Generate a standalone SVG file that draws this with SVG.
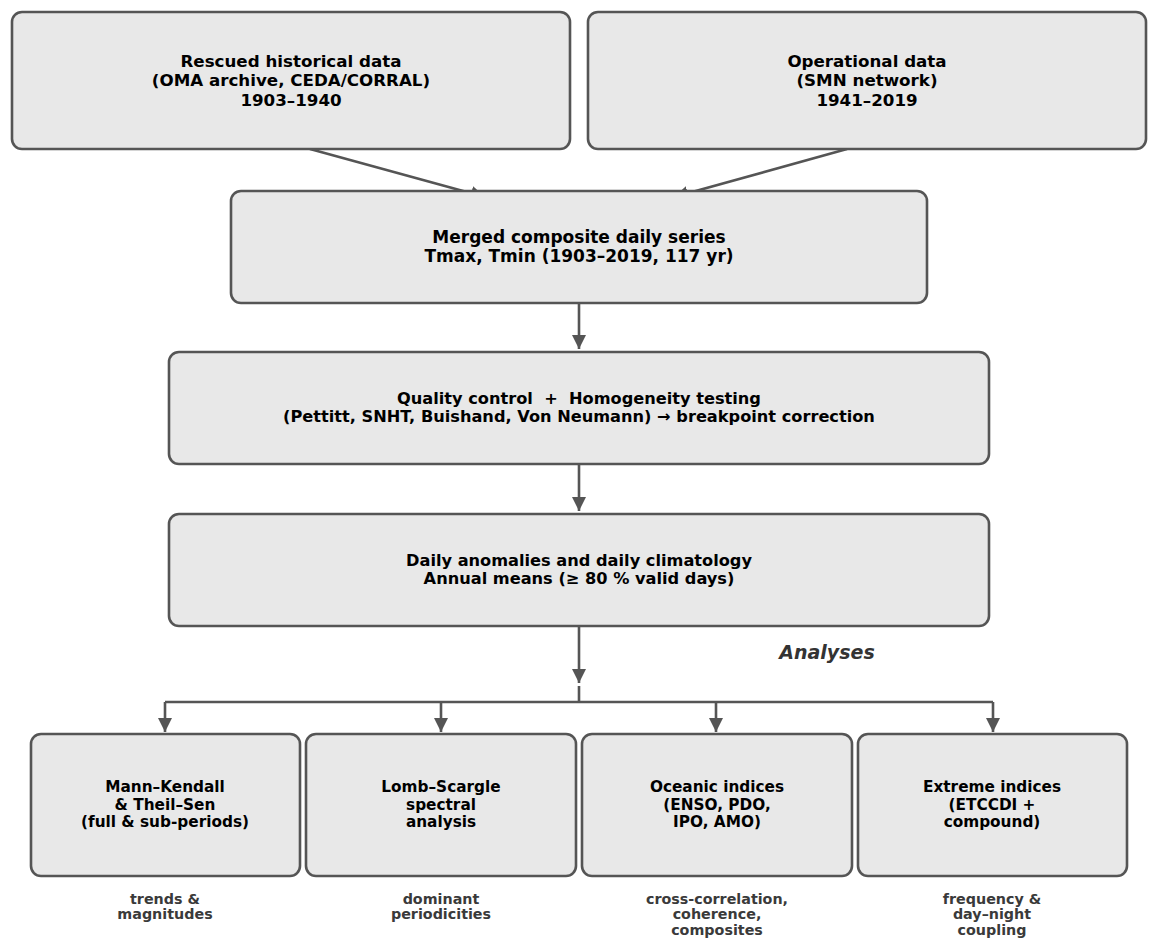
<svg xmlns="http://www.w3.org/2000/svg" width="1157" height="947" viewBox="0 0 1157 947">
<defs>
<style>
.box{fill:#e8e8e8;stroke:#555;stroke-width:2.6}
.t{font-family:"DejaVu Sans",sans-serif;font-weight:bold;fill:#000;text-anchor:middle}
.t1{font-size:16.7px}
.tm{font-size:17px}
.t2{font-size:16.2px}
.t3{font-size:15.3px}
.sub{font-family:"DejaVu Sans",sans-serif;font-weight:bold;font-size:14.3px;fill:#3a3a3a;text-anchor:middle}
.ln{stroke:#555;stroke-width:2.6;fill:none}
</style>
<marker id="ah" viewBox="0 0 10 10" refX="10" refY="5" markerWidth="5.5" markerHeight="5.5" markerUnits="strokeWidth" orient="auto">
<path d="M0,0 L10,5 L0,10 z" fill="#555"/>
</marker>
</defs>
<rect width="1157" height="947" fill="#fff"/>
<g id="connectors">
<line class="ln" x1="310" y1="149" x2="485" y2="197" marker-end="url(#ah)"/>
<line class="ln" x1="847" y1="149" x2="674" y2="197" marker-end="url(#ah)"/>
<line class="ln" x1="579" y1="303" x2="579" y2="349" marker-end="url(#ah)"/>
<line class="ln" x1="579" y1="464" x2="579" y2="511" marker-end="url(#ah)"/>
<line class="ln" x1="579" y1="626" x2="579" y2="683" marker-end="url(#ah)"/>
<polyline class="ln" points="579,686 579,702"/>
<line class="ln" x1="165" y1="702" x2="993" y2="702"/>
<line class="ln" x1="165" y1="702" x2="165" y2="732" marker-end="url(#ah)"/>
<line class="ln" x1="441" y1="702" x2="441" y2="732" marker-end="url(#ah)"/>
<line class="ln" x1="716" y1="702" x2="716" y2="732" marker-end="url(#ah)"/>
<line class="ln" x1="993" y1="702" x2="993" y2="732" marker-end="url(#ah)"/>
</g>
<g id="n_rescued">
<rect class="box" x="12" y="12" width="558" height="137" rx="10"/>
<text class="t t1" x="291" y="67">Rescued historical data</text>
<text class="t t1" x="291" y="86">(OMA archive, CEDA/CORRAL)</text>
<text class="t t1" x="291" y="106">1903–1940</text>
</g>
<g id="n_operational">
<rect class="box" x="588" y="12" width="558" height="137" rx="10"/>
<text class="t t1" x="867" y="67">Operational data</text>
<text class="t t1" x="867" y="86">(SMN network)</text>
<text class="t t1" x="867" y="106">1941–2019</text>
</g>
<g id="n_merged">
<rect class="box" x="231" y="191" width="696" height="112" rx="10"/>
<text class="t tm" x="579" y="243">Merged composite daily series</text>
<text class="t tm" x="579" y="262">Tmax, Tmin (1903–2019, 117 yr)</text>
</g>
<g id="n_qc">
<rect class="box" x="169" y="352" width="820" height="112" rx="10"/>
<text class="t t2" x="579" y="404" xml:space="preserve">Quality control  +  Homogeneity testing</text>
<text class="t t2" x="579" y="422">(Pettitt, SNHT, Buishand, Von Neumann) → breakpoint correction</text>
</g>
<g id="n_anom">
<rect class="box" x="169" y="514" width="820" height="112" rx="10"/>
<text class="t t2" x="579" y="566">Daily anomalies and daily climatology</text>
<text class="t t2" x="579" y="584">Annual means (≥ 80 % valid days)</text>
</g>
<text x="827" y="659" font-family="'DejaVu Sans',sans-serif" font-weight="bold" font-style="italic" font-size="19" fill="#333" text-anchor="middle">Analyses</text>
<g id="n_mk">
<rect class="box" x="31" y="734" width="269" height="142" rx="10"/>
<text class="t t3" x="165" y="792">Mann–Kendall</text>
<text class="t t3" x="165" y="810">&amp; Theil–Sen</text>
<text class="t t3" x="165" y="827">(full &amp; sub-periods)</text>
<text class="sub" x="165" y="904">trends &amp;</text>
<text class="sub" x="165" y="919">magnitudes</text>
</g>
<g id="n_ls">
<rect class="box" x="306" y="734" width="270" height="142" rx="10"/>
<text class="t t3" x="441" y="792">Lomb–Scargle</text>
<text class="t t3" x="441" y="810">spectral</text>
<text class="t t3" x="441" y="827">analysis</text>
<text class="sub" x="441" y="904">dominant</text>
<text class="sub" x="441" y="919">periodicities</text>
</g>
<g id="n_oc">
<rect class="box" x="582" y="734" width="270" height="142" rx="10"/>
<text class="t t3" x="717" y="792">Oceanic indices</text>
<text class="t t3" x="717" y="810">(ENSO, PDO,</text>
<text class="t t3" x="717" y="827">IPO, AMO)</text>
<text class="sub" x="717" y="904">cross-correlation,</text>
<text class="sub" x="717" y="919">coherence,</text>
<text class="sub" x="717" y="935">composites</text>
</g>
<g id="n_ex">
<rect class="box" x="858" y="734" width="269" height="142" rx="10"/>
<text class="t t3" x="992" y="792">Extreme indices</text>
<text class="t t3" x="992" y="810">(ETCCDI +</text>
<text class="t t3" x="992" y="827">compound)</text>
<text class="sub" x="992" y="904">frequency &amp;</text>
<text class="sub" x="992" y="919">day–night</text>
<text class="sub" x="992" y="935">coupling</text>
</g>
</svg>
